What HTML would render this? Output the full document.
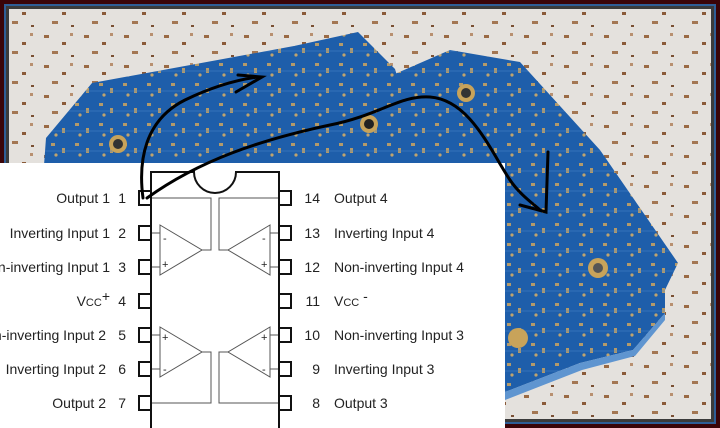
<!DOCTYPE html>
<html><head><meta charset="utf-8"><style>
html,body{margin:0;padding:0;width:720px;height:428px;overflow:hidden;background:#3a0408}
</style></head><body>
<svg width="720" height="428" viewBox="0 0 720 428" xmlns="http://www.w3.org/2000/svg" font-family="Liberation Sans, sans-serif">
<defs>
<pattern id="lace" width="40" height="30" patternUnits="userSpaceOnUse">
<rect width="40" height="30" fill="#e4e1dd"/>
<rect x="4" y="5" width="5" height="3" fill="#9a6a44"/>
<rect x="22" y="12" width="4" height="3" fill="#8a5a38"/>
<rect x="12" y="21" width="6" height="3" fill="#a37652"/>
<rect x="31" y="25" width="3" height="2" fill="#7a5034"/>
<rect x="30" y="3" width="3" height="3" fill="#b89070"/>
</pattern>
<pattern id="pcb" width="24" height="20" patternUnits="userSpaceOnUse">
<rect width="24" height="20" fill="#1e5eaa"/>
<rect x="3" y="3" width="4" height="3" fill="#b39a6a"/>
<rect x="14" y="8" width="3" height="5" fill="#b39a6a"/>
<circle cx="8" cy="15" r="1.6" fill="#c0a46e"/>
<line x1="0" y1="11" x2="24" y2="11" stroke="#4a86cc" stroke-width="0.6"/>
</pattern>
</defs>
<rect x="4" y="4" width="712" height="420" fill="#2e5e96"/>
<rect x="6" y="6" width="708" height="416" fill="#3b3b3b"/>
<rect x="9" y="9" width="702" height="410" fill="url(#lace)"/>
<polygon points="46,138 92,83 294,46 358,32 395,69 420,150 300,220 40,220" fill="url(#pcb)"/>
<polygon points="321,106 450,50 520,62 600,150 678,263 665,290 665,313 633,350 580,363 505,392 505,163 330,163" fill="url(#pcb)"/>
<polygon points="505,392 580,363 633,350 665,313 665,320 635,356 582,370 505,400" fill="#5f95d0"/>
<circle cx="369" cy="124" r="9" fill="#c8a35a"/><circle cx="369" cy="124" r="5" fill="#222"/>
<circle cx="466" cy="93" r="9" fill="#c8a35a"/><circle cx="466" cy="93" r="5" fill="#333"/>
<circle cx="118" cy="144" r="9" fill="#c8a35a"/><circle cx="118" cy="144" r="5" fill="#333"/>
<circle cx="598" cy="268" r="10" fill="#c8a35a"/><circle cx="598" cy="268" r="5" fill="#555"/>
<circle cx="518" cy="338" r="10" fill="#c8a35a"/>
<rect x="0" y="163" width="505" height="265" fill="#fff"/>
<g stroke="#111" fill="none" stroke-width="2">
<path d="M151,428 V172 H194 A21,21 0 0 0 236,172 H279 V428"/>
</g>
<g stroke="#555" fill="none" stroke-width="1">
<path d="M151,198 H211 V250 H202 M279,198 H219 V250 H228"/>
<path d="M151,403 H211 V352 H202 M279,403 H219 V352 H228"/>
<path d="M160,225 L202,250 L160,275 Z M270,225 L228,250 L270,275 Z"/>
<path d="M160,327 L202,352 L160,377 Z M270,327 L228,352 L270,377 Z"/>
<path d="M151,233 H160 M151,267 H160 M279,233 H270 M279,267 H270 M151,335 H160 M151,369 H160 M279,335 H270 M279,369 H270"/>
</g>
<g stroke="#111" fill="#fff" stroke-width="2">
<rect x="139" y="191" width="12" height="14"/><rect x="139" y="226" width="12" height="14"/><rect x="139" y="260" width="12" height="14"/><rect x="139" y="294" width="12" height="14"/><rect x="139" y="328" width="12" height="14"/><rect x="139" y="362" width="12" height="14"/><rect x="139" y="396" width="12" height="14"/>
<rect x="279" y="191" width="12" height="14"/><rect x="279" y="226" width="12" height="14"/><rect x="279" y="260" width="12" height="14"/><rect x="279" y="294" width="12" height="14"/><rect x="279" y="328" width="12" height="14"/><rect x="279" y="362" width="12" height="14"/><rect x="279" y="396" width="12" height="14"/>
</g>
<g font-size="11" fill="#222"><text x="163" y="242">-</text><text x="162" y="268">+</text><text x="262" y="242">-</text><text x="261" y="268">+</text><text x="162" y="341">+</text><text x="163" y="373">-</text><text x="261" y="341">+</text><text x="262" y="373">-</text></g>
<g font-size="14" fill="#222" text-anchor="end">
<text x="110" y="203">Output 1</text><text x="110" y="238">Inverting Input 1</text><text x="110" y="272">Non-inverting Input 1</text><text x="110" y="306">V<tspan font-size="11">CC</tspan><tspan dy="-5">+</tspan></text><text x="106" y="340">Non-inverting Input 2</text><text x="106" y="374">Inverting Input 2</text><text x="106" y="408">Output 2</text>
<text x="126" y="203">1</text><text x="126" y="238">2</text><text x="126" y="272">3</text><text x="126" y="306">4</text><text x="126" y="340">5</text><text x="126" y="374">6</text><text x="126" y="408">7</text>
<text x="320" y="203">14</text><text x="320" y="238">13</text><text x="320" y="272">12</text><text x="320" y="306">11</text><text x="320" y="340">10</text><text x="320" y="374">9</text><text x="320" y="408">8</text>
</g>
<g font-size="14" fill="#222">
<text x="334" y="203">Output 4</text><text x="334" y="238">Inverting Input 4</text><text x="334" y="272">Non-inverting Input 4</text><text x="334" y="306">V<tspan font-size="11">CC</tspan><tspan dy="-5"> -</tspan></text><text x="334" y="340">Non-inverting Input 3</text><text x="334" y="374">Inverting Input 3</text><text x="334" y="408">Output 3</text>
</g>
<g stroke="#000" fill="none" stroke-width="3" stroke-linecap="round">
<path d="M143,198 C138,160 145,120 185,100 C210,88 235,80 258,77"/>
<path d="M238,75 L262,77 L236,92"/>
<path d="M147,198 C200,160 260,140 330,125 C380,115 400,95 430,97 C470,100 490,150 510,180 C520,195 535,205 540,210"/>
<path d="M548,152 L546,212 L520,205"/>
</g>
</svg>
</body></html>
